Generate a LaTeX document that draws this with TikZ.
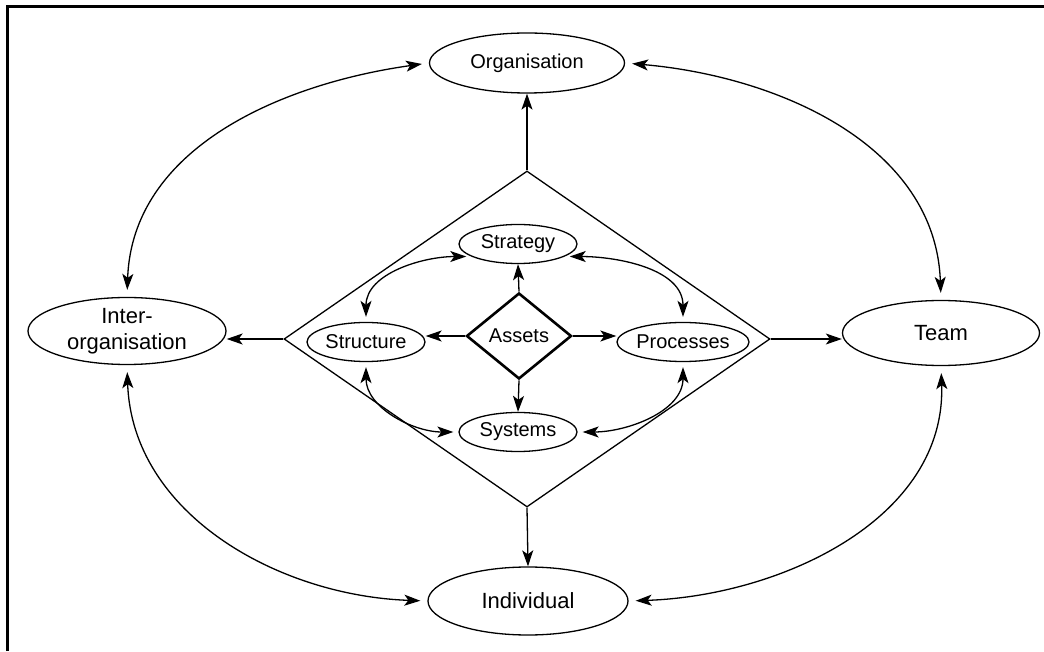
\documentclass[tikz,border=0pt]{standalone}
\usepackage{fontspec}
\setmainfont{Liberation Sans}
\usepackage{tikz}
\usetikzlibrary{
    shapes.geometric,
    arrows.meta
}
\tikzset{
    >={Stealth[length=16pt,width=11pt,inset=4pt]},
    outerell/.style={
        ellipse,
        draw,
        inner sep=0pt,
        font=\fontsize{22}{26}\selectfont
    },
    innerell/.style={
        ellipse,
        draw,
        inner sep=0pt,
        minimum width=118pt,
        minimum height=39pt,
        font=\fontsize{20}{22}\selectfont
    },
    link/.style={
        <->,
        shorten >=7pt,
        shorten <=7pt
    }
}

\begin{document}
\begin{tikzpicture}[
    x=1pt, y=1pt,
    line width=1.3pt
]
    \useasboundingbox (0,0) rectangle (1044,651);

    % Rahmen
    \draw[line width=3pt] (7,0) -- (7,644) -- (1044,644);

    % Rauten
    \node[diamond, draw, inner sep=0pt,
          minimum width=486pt, minimum height=336pt] (bigd) at (527,312) {};
    \node[diamond, draw, line width=2.6pt, inner sep=0pt,
          minimum width=105pt, minimum height=86pt,
          font=\fontsize{20}{22}\selectfont] (assets) at (519,315) {Assets};

    % Ebenen
    \node[outerell, minimum width=195pt, minimum height=60pt,
          font=\fontsize{20}{24}\selectfont] (org)   at (527,588) {Organisation};
    \node[outerell, minimum width=198pt, minimum height=67pt,
          align=center] (inter) at (127,320) {Inter-\\organisation};
    \node[outerell, minimum width=197pt, minimum height=65pt] (team)  at (941,318) {Team};
    \node[outerell, minimum width=200pt, minimum height=68pt] (indiv) at (528,50)  {Individual};

    % Bausteine
    \node[innerell]                       (strat) at (518,407) {Strategy};
    \node[innerell]                       (strc)  at (366,309) {Structure};
    \node[innerell, minimum width=120pt]  (proc)  at (683,309) {Processes};
    \node[innerell]                       (sys)   at (518,219) {Systems};

    % Pfeile aus den Rauten
    \path[->]
        (assets.north) edge (strat.south)
        (assets.south) edge (sys.north)
        (assets.west)  edge (assets.west -| strc.east)
        (assets.east)  edge (assets.east -| proc.west)
        (bigd.north)   edge (org.south)
        (bigd.south)   edge (indiv.north)
        (bigd.west)    edge (bigd.west -| inter.east)
        (bigd.east)    edge (bigd.east -| team.west);

    % Boegen aussen
    \path[link]
        (inter.north) edge[out=88, in=188] (org.west)
        (org.east)    edge[out=-5, in=92]  (team.north)
        (inter.south) edge[out=-88, in=178] (indiv.west)
        (indiv.east)  edge[out=2, in=-88]  (team.south);

    % Boegen innen
    \path[link, shorten >=5pt, shorten <=5pt]
        (strc.north) edge[out=90, in=180]  (strat.195)
        (strat.-15)  edge[out=0, in=90]    (proc.north)
        (strc.south) edge[out=-90, in=180] (sys.west)
        (proc.south) edge[out=-90, in=0]   (sys.east);

\end{tikzpicture}
\end{document}
